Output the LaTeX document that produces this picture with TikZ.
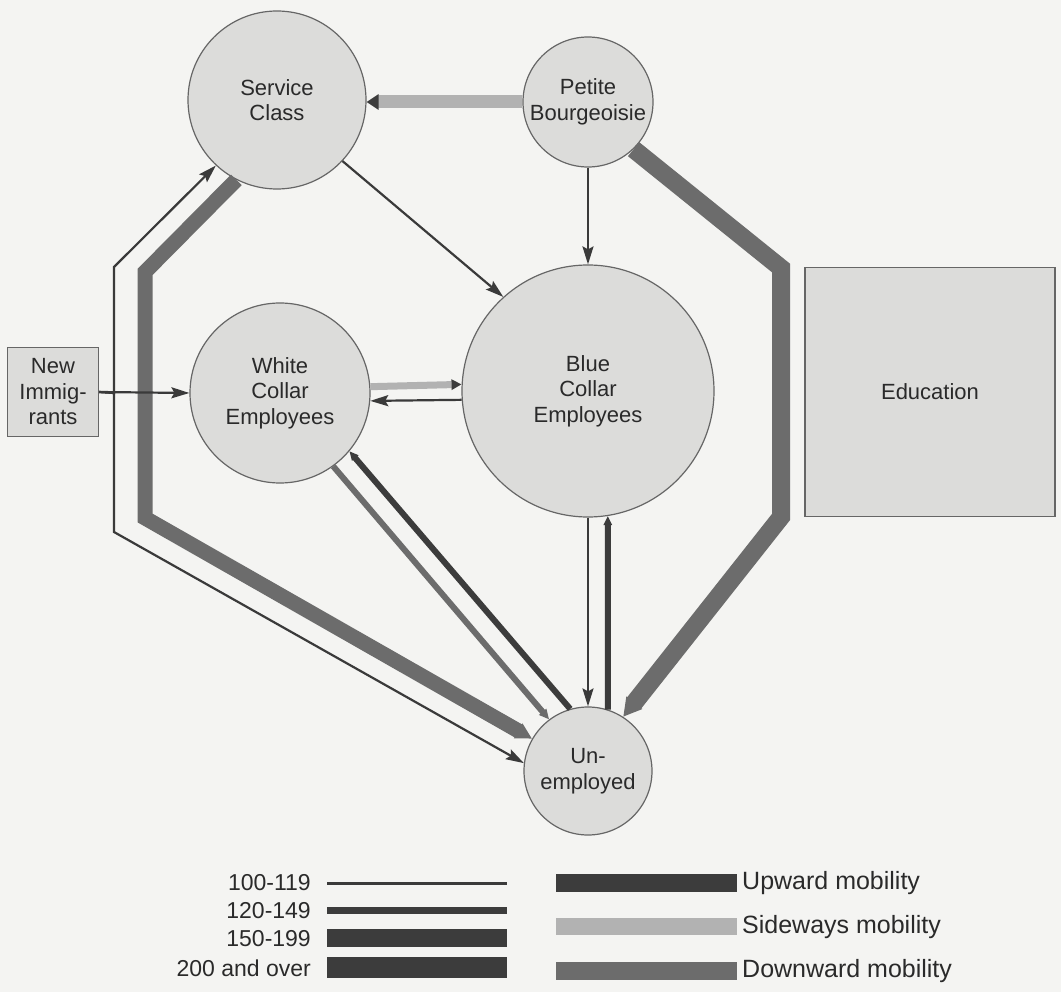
\documentclass[tikz,border=0pt]{standalone}
\usepackage{fontspec}
\setmainfont{Liberation Sans}
\usetikzlibrary{arrows.meta,shapes.geometric}
\definecolor{bgc}{HTML}{F4F4F2}
\definecolor{fillc}{HTML}{DCDCDA}
\definecolor{edgec}{HTML}{666666}
\definecolor{upc}{HTML}{3C3C3C}
\definecolor{sidec}{HTML}{B2B2B2}
\definecolor{downc}{HTML}{6C6C6C}
\definecolor{thinc}{HTML}{3A3A3A}
\definecolor{txtc}{HTML}{2A2A2A}
\begin{document}
\begin{tikzpicture}[x=1pt,y=-1pt,
  cls/.style={circle,draw=edgec,fill=fillc,line width=1.2pt,inner sep=0pt,align=center,text=txtc,font=\fontsize{22}{25.5}\selectfont},
  boxn/.style={rectangle,draw=edgec,fill=fillc,line width=1.2pt,inner sep=0pt,align=center,text=txtc,font=\fontsize{22}{25.5}\selectfont},
  flowthin/.style={draw=thinc,line width=2.2pt,-{Stealth[length=18pt,width=11pt,inset=3pt]}},
  upmid/.style={draw=upc,line width=6pt,-{Triangle[length=9pt,width=8pt]}},
  downmid/.style={draw=downc,line width=6pt,-{Triangle[length=10pt,width=9pt]}},
  sidemid/.style={draw=sidec,line width=7pt,-{Triangle[length=10pt,width=10pt,color=upc,fill=upc]}},
  sidebig/.style={draw=sidec,line width=13pt,-{Triangle[length=12pt,width=15pt,color=upc,fill=upc]}},
  downbig/.style={draw=downc,line width=15pt,line join=miter,-{Triangle[length=16pt,width=16pt]}},
  downhuge/.style={draw=downc,line width=18pt,line join=miter,-{Triangle[length=18pt,width=19pt]}},
  legl/.style={text=txtc,font=\fontsize{23}{27}\selectfont,inner sep=0pt},
  legr/.style={text=txtc,font=\fontsize{25}{29}\selectfont,inner sep=0pt}
]
\useasboundingbox (0,0) rectangle (1061,992);
\fill[bgc] (0,0) rectangle (1061,992);

% nodes
\node[cls,minimum size=178pt] (SC) at (277,100) {Service\\Class};
\node[cls,minimum size=130pt] (PB) at (588,102) {Petite\\Bourgeoisie};
\node[cls,minimum size=252pt] (BC) at (588,391) {Blue\\Collar\\Employees};
\node[cls,minimum size=180pt] (WC) at (280,393) {White\\Collar\\Employees};
\node[cls,minimum size=128pt] (Un) at (588,771) {Un-\\employed};
\node[boxn,minimum width=91pt,minimum height=89pt] (NI) at (53,392) {New\\Immig-\\rants};
\node[boxn,minimum width=250pt,minimum height=249pt] (Edu) at (930,392) {Education};

% bend coordinates
\coordinate (pbA) at (781,268);
\coordinate (pbB) at (781,517);
\coordinate (scA) at (145,272);
\coordinate (scB) at (145,518);
\coordinate (niJ) at (114,393);
\coordinate (niA) at (114,267);
\coordinate (niB) at (114,532);

% connectors
\draw[downhuge] (PB.-46) -- (pbA) -- (pbB) -- (Un.57);
\draw[downbig] (SC.-117) -- (scA) -- (scB) -- (Un.150);
\draw[flowthin,line join=miter] (NI.east) -- (niJ) -- (niA) -- (SC.-133);
\draw[flowthin,line join=miter] (NI.east) -- (niJ) -- (niB) -- (Un.173);
\draw[flowthin] (NI.east) -- (WC.west);
\draw[sidebig] (PB.west) -- (PB.west -| SC.east);
\draw[flowthin] (SC.-43) -- (BC.132);
\draw[flowthin] (PB.south) -- (BC.north);
\draw[sidemid] (WC.4.5) -- (BC.177.7);
\draw[flowthin] (BC.184.5) -- (WC.-5);
\draw[downmid] (WC.-54) -- (Un.127);
\draw[upmid] (Un.106) -- (WC.-40);
\draw[flowthin] (BC.south) -- (Un.north);
\draw[upmid] (Un.72) -- (BC.-81);

% legend
\node[legl,anchor=east] (l1) at (311,883) {100-119};
\node[legl,anchor=east] (l2) at (311,911) {120-149};
\node[legl,anchor=east] (l3) at (311,939) {150-199};
\node[legl,anchor=east] (l4) at (311,968) {200 and over};
\fill[thinc] (327,881.5) rectangle (507,884.5);
\fill[upc] (327,907) rectangle (507,914);
\fill[upc] (327,929) rectangle (507,947);
\fill[upc] (327,957) rectangle (507,978);
\fill[upc] (556,874) rectangle (737,892);
\fill[sidec] (556,918) rectangle (737,935);
\fill[downc] (556,962) rectangle (737,980);
\node[legr,anchor=west] (r1) at (742,883) {Upward mobility};
\node[legr,anchor=west] (r2) at (742,927) {Sideways mobility};
\node[legr,anchor=west] (r3) at (742,971) {Downward mobility};
\end{tikzpicture}
\end{document}
